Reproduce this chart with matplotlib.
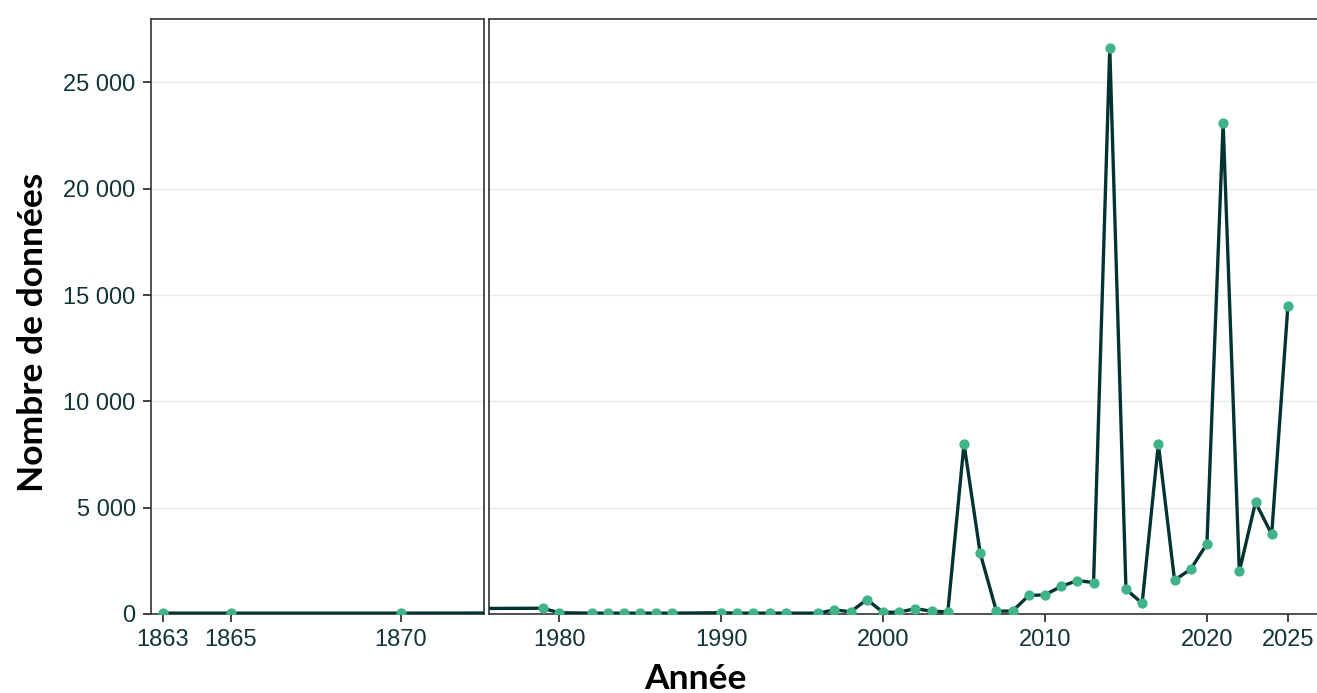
import matplotlib
matplotlib.use("Agg")
import matplotlib.pyplot as plt
from matplotlib.ticker import FuncFormatter

plt.rcParams["font.family"] = ["Liberation Sans", "DejaVu Sans"]

# données
annees = [1863, 1865, 1870, 1979, 1980, 1982, 1983, 1984, 1985, 1986, 1987,
          1990, 1991, 1992, 1993, 1994, 1996, 1997, 1998, 1999, 2000, 2001,
          2002, 2003, 2004, 2005, 2006, 2007, 2008, 2009, 2010, 2011, 2012,
          2013, 2014, 2015, 2016, 2017, 2018, 2019, 2020, 2021, 2022, 2023,
          2024, 2025]
nombre = [40, 40, 40, 270, 60, 40, 40, 40, 40, 40, 40,
          60, 40, 40, 40, 40, 40, 200, 100, 680, 80, 90,
          250, 130, 100, 8000, 2860, 130, 140, 870, 900, 1300, 1570,
          1480, 26620, 1170, 500, 8000, 1590, 2110, 3300, 23070, 2000, 5250,
          3750, 14490]

ticks_gauche = [1863, 1865, 1870]
ticks_droite = [1980, 1990, 2000, 2010, 2020, 2025]
ticks_y = [0, 5000, 10000, 15000, 20000, 25000]

c_ligne = "#033331"
c_point = "#41b388"
c_texte = "#133536"
c_bord = "#333333"

fig = plt.figure(figsize=(13.17, 6.93), dpi=100)
ax1 = fig.add_axes([151 / 1317, 79 / 693, 333 / 1317, 595 / 693])
ax2 = fig.add_axes([489 / 1317, 79 / 693, 830 / 1317, 595 / 693])

fmt = FuncFormatter(lambda v, p: f"{int(v):,}".replace(",", " "))

for ax in (ax1, ax2):
    ax.plot(annees, nombre, color=c_ligne, lw=2.4, zorder=3)
    ax.plot(annees, nombre, "o", color=c_point, ms=7.4, mec="none", zorder=4)
    ax.set_ylim(0, 27980)
    ax.set_yticks(ticks_y)
    ax.grid(axis="y", color="#e8ebeb", lw=1)
    ax.set_axisbelow(True)
    for s in ax.spines.values():
        s.set_color(c_bord)
        s.set_linewidth(1.2)
    ax.tick_params(axis="both", colors=c_bord, labelcolor=c_texte,
                   labelsize=17, length=6, width=1.3, pad=5)

ax1.set_xlim(1862.65, 1872.45)
ax1.set_xticks(ticks_gauche)
ax1.yaxis.set_major_formatter(fmt)

ax2.set_xlim(1975.67, 2026.92)
ax2.set_xticks(ticks_droite)
ax2.tick_params(axis="y", left=False, labelleft=False)

fig.text(0.025, 0.521, "Nombre de données", rotation=90,
         ha="center", va="center", fontsize=25.5, fontweight="bold",
         family="Lato", color="black")
fig.text(0.528, 0.006, "Année", ha="center", va="baseline", fontsize=25.5,
         fontweight="bold", family="Lato", color="black")

fig.savefig("out.png", dpi=100)
